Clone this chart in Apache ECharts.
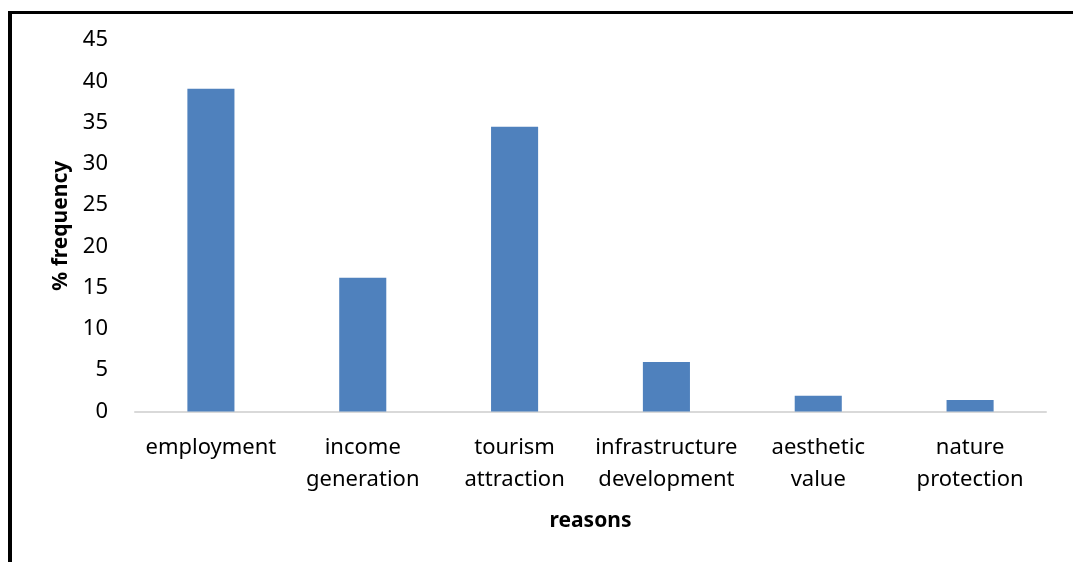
<!DOCTYPE html>
<html>
<head>
<meta charset="utf-8">
<script src="https://cdn.jsdelivr.net/npm/echarts@6/dist/echarts.min.js"></script>
<style>html,body{margin:0;padding:0;background:#fff}#c{width:1073px;height:562px}</style>
</head>
<body>
<div id="c"></div>
<script>
const categories = ["employment", "income\ngeneration", "tourism\nattraction", "infrastructure\ndevelopment", "aesthetic\nvalue", "nature\nprotection"];
const values = [39.1, 16.2, 34.5, 6.0, 1.9, 1.4];
const yTicks = [0, 45, 5];
const FONT = "Noto Sans";
const chart = echarts.init(document.getElementById('c'));
chart.setOption({
  animation: false,
  textStyle: { fontFamily: FONT },
  graphic: [
    { type: 'rect', shape: { x: 8, y: 11, width: 1065, height: 3 }, style: { fill: '#000' } },
    { type: 'rect', shape: { x: 8, y: 11, width: 4, height: 551 }, style: { fill: '#000' } }
  ],
  grid: { left: 135, right: 27, top: 40, bottom: 150.5 },
  xAxis: {
    type: 'category',
    data: categories,
    name: 'reasons',
    nameLocation: 'middle',
    nameGap: 99,
    nameTextStyle: { fontFamily: FONT, fontSize: 21, fontWeight: 'bold', color: '#000' },
    axisLine: { lineStyle: { color: '#d9d9d9', width: 2 } },
    axisTick: { show: false },
    axisLabel: { fontFamily: FONT, fontSize: 22, color: '#000', margin: 20, lineHeight: 32, interval: 0 }
  },
  yAxis: {
    type: 'value',
    min: yTicks[0], max: yTicks[1], interval: yTicks[2],
    name: '% frequency',
    nameLocation: 'middle',
    nameGap: 62,
    nameTextStyle: { fontFamily: FONT, fontSize: 21, fontWeight: 'bold', color: '#000' },
    axisLine: { show: false },
    axisTick: { show: false },
    splitLine: { show: false },
    axisLabel: { fontFamily: FONT, fontSize: 22, color: '#000', margin: 27 }
  },
  series: [{
    type: 'bar',
    data: values,
    barWidth: '31%',
    itemStyle: { color: '#4f81bd' }
  }]
});
</script>
</body>
</html>
